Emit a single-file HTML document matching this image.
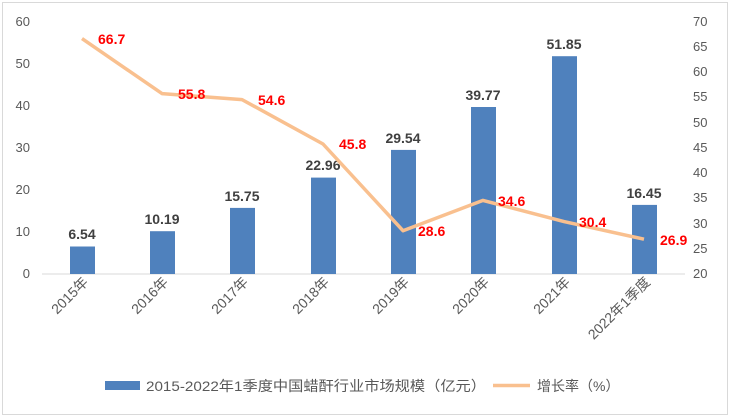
<!DOCTYPE html>
<html><head><meta charset="utf-8"><style>
body{margin:0;background:#fff;}
svg{display:block;font-family:"Liberation Sans","Noto Sans CJK SC",sans-serif;}
</style></head><body>
<svg width="730" height="418" viewBox="0 0 730 418">
<rect x="2.5" y="2.5" width="725" height="412" fill="#fff" stroke="#d9d9d9"/>
<line x1="42" y1="274" x2="685" y2="274" stroke="#d9d9d9"/>
<g font-size="13" fill="#595959" text-anchor="end">
<text x="30" y="278">0</text><text x="30" y="236">10</text><text x="30" y="194">20</text><text x="30" y="152">30</text><text x="30" y="110">40</text><text x="30" y="68">50</text><text x="30" y="26">60</text>
</g>
<g font-size="13" fill="#595959" text-anchor="start">
<text x="693" y="278">20</text><text x="693" y="253">25</text><text x="693" y="228">30</text><text x="693" y="202">35</text><text x="693" y="177">40</text><text x="693" y="152">45</text><text x="693" y="127">50</text><text x="693" y="101">55</text><text x="693" y="76">60</text><text x="693" y="51">65</text><text x="693" y="26">70</text>
</g>
<g fill="#4f81bd">
<rect x="70" y="246.5" width="25" height="27.5"/>
<rect x="150" y="231.2" width="25" height="42.8"/>
<rect x="230" y="207.9" width="25" height="66.1"/>
<rect x="311" y="177.6" width="25" height="96.4"/>
<rect x="391" y="149.9" width="25" height="124.1"/>
<rect x="471" y="107" width="25" height="167"/>
<rect x="552" y="56.2" width="25" height="217.8"/>
<rect x="632" y="204.9" width="25" height="69.1"/>
</g>
<g font-size="14" font-weight="bold" fill="#404040" text-anchor="middle">
<text x="82" y="239">6.54</text><text x="162" y="224">10.19</text><text x="242" y="201">15.75</text><text x="323" y="170">22.96</text><text x="403" y="143">29.54</text><text x="483" y="100">39.77</text><text x="564" y="49">51.85</text><text x="644" y="198">16.45</text>
</g>
<polyline fill="none" stroke="#f9c08f" stroke-width="3.5" stroke-linejoin="round" points="82,38.6 162,93.6 242,99.6 323,144 403,230.7 483,200.4 564,221.6 644,239.2"/>
<g font-size="14" font-weight="bold" fill="#ff0000">
<text x="98" y="44">66.7</text><text x="178" y="99">55.8</text><text x="258" y="105">54.6</text><text x="339" y="149">45.8</text><text x="418" y="236">28.6</text><text x="498" y="206">34.6</text><text x="579" y="227">30.4</text><text x="660" y="245">26.9</text>
</g>
<g font-size="14" fill="#595959" text-anchor="end">
<text transform="translate(89,283) rotate(-45)">2015年</text>
<text transform="translate(169,283) rotate(-45)">2016年</text>
<text transform="translate(249,283) rotate(-45)">2017年</text>
<text transform="translate(330,283) rotate(-45)">2018年</text>
<text transform="translate(410,283) rotate(-45)">2019年</text>
<text transform="translate(490,283) rotate(-45)">2020年</text>
<text transform="translate(571,283) rotate(-45)">2021年</text>
<text transform="translate(651,283) rotate(-45)">2022年1季度</text>
</g>
<rect x="105" y="381" width="35" height="9" fill="#4f81bd"/>
<text x="146" y="391" font-size="14" fill="#595959" textLength="340" lengthAdjust="spacingAndGlyphs">2015-2022年1季度中国蜡酐行业市场规模（亿元）</text>
<line x1="493" y1="385.5" x2="530" y2="385.5" stroke="#f9c08f" stroke-width="3.5"/>
<text x="537" y="391" font-size="14" fill="#595959">增长率（%）</text>
</svg>
</body></html>
